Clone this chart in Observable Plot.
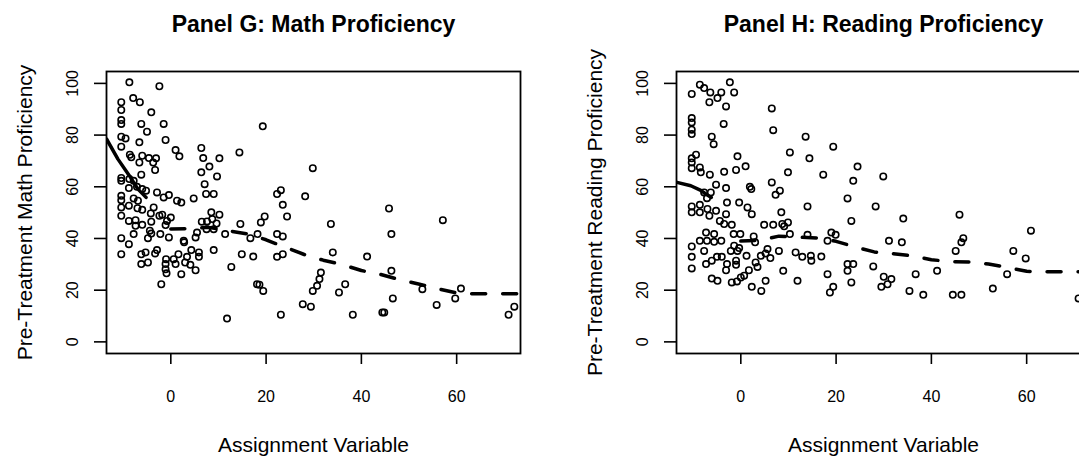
<!DOCTYPE html>
<html>
<head>
<meta charset="utf-8">
<script src="https://cdn.jsdelivr.net/npm/d3@7"></script>
<script src="https://cdn.jsdelivr.net/npm/@observablehq/plot@0.6"></script>
<style>
html, body { margin: 0; padding: 0; background: #fff; width: 1079px; height: 456px; overflow: hidden; }
#wrap { position: relative; width: 1079px; height: 456px; overflow: hidden; }
.panel { position: absolute; top: 0; width: 570px; height: 456px; }
.panel svg { max-width: none !important; display: block; }
</style>
</head>
<body>
<div id="wrap">
  <div class="panel" id="panelG" style="left:0px"></div>
  <div class="panel" id="panelH" style="left:570px"></div>
</div>
<script>
// ---- Tick labels / text ----
const xTicks = [0, 20, 40, 60];
const yTicks = [0, 20, 40, 60, 80, 100];
const xLabel = "Assignment Variable";
const titleG = "Panel G: Math Proficiency";
const titleH = "Panel H: Reading Proficiency";
const yLabelG = "Pre-Treatment Math Proficiency";
const yLabelH = "Pre-Treatment Reading Proficiency";

// ---- Panel G scatter (assignment variable, math proficiency) ----
const gX = [-8.7,-2.4,-7.9,-6.5,-10.4,-10.4,-4.1,-10.4,-10.4,-6.2,-1.5,-5.0,-10.4,-9.5,-1.1,-6.6,-10.4,1.0,6.4,14.4,
  1.8,-8.6,-8.3,-6.0,-4.6,-3.1,6.8,10.2,-6.6,-3.7,8.1,-3.3,6.4,-6.2,9.7,-10.4,-10.4,-8.7,-7.8,7.1,
  -8.8,-7.1,-6.0,-5.2,-2.9,-0.4,-1.5,-10.4,-10.4,-7.8,-6.9,1.3,2.2,4.8,7.4,9.0,-8.8,-7.0,-6.0,-3.6,
  -10.4,-10.4,-1.8,0.0,-4.2,-2.4,-0.8,8.5,10.2,8.7,7.6,9.6,6.5,-8.8,-7.4,-4.1,-7.4,-6.0,-1.1,-4.4,
  7.5,9.0,-7.8,-4.1,-2.2,5.5,11.4,-10.4,-4.8,-0.4,5.2,14.6,16.7,18.2,-8.8,2.7,2.8,4.3,5.9,5.9,
  9.0,-2.9,-3.3,-6.2,-5.3,-10.4,-1.0,0.6,1.6,3.4,-1.1,1.0,3.0,4.1,-6.2,-4.8,-1.1,5.2,-0.9,2.2,
  12.7,14.9,17.3,-2.0,18.1,11.8,
  19.3,29.8,22.3,23.1,28.2,23.5,24.4,18.9,19.7,22.3,23.5,22.3,23.5,33.6,34.0,41.2,45.8,46.3,46.3,46.6,
  57.1,18.6,19.4,31.5,31.2,30.7,29.8,27.7,29.4,23.1,35.3,36.6,38.2,44.4,44.8,52.8,55.8,59.7,60.9,70.9,72.1];
const gY = [100.4,98.9,94.3,92.7,92.7,89.7,88.8,85.8,84.3,84.3,84.3,81.3,79.4,78.7,78.1,77.2,75.5,74.2,75.0,73.3,
  71.8,72.4,71.4,72.0,71.1,71.0,71.1,71.0,69.4,69.4,67.8,66.5,65.6,64.7,64.0,63.4,62.3,63.0,62.3,61.0,
  59.5,60.0,59.1,58.5,57.8,56.8,55.9,56.5,54.8,55.5,54.6,54.6,53.9,55.5,57.2,57.2,52.7,51.7,51.1,52.0,
  52.0,48.8,49.2,48.1,49.7,48.8,46.8,50.1,49.2,47.5,46.6,45.8,46.5,46.8,47.1,46.5,44.9,45.3,45.2,43.0,
  43.6,43.6,41.7,41.9,41.7,42.3,41.7,40.1,40.1,40.4,40.4,45.6,40.1,41.7,37.8,39.1,38.5,35.5,34.6,32.9,
  35.5,35.5,34.2,33.9,34.6,33.9,32.0,32.0,33.9,32.9,30.1,30.1,30.7,29.8,30.1,30.7,28.1,27.7,26.5,26.2,
  29.0,33.9,33.0,22.3,22.3,9.0,
  83.4,67.2,57.2,58.7,56.3,53.0,48.5,46.2,48.5,41.7,40.8,32.9,33.9,45.6,34.6,33.0,51.6,41.7,27.5,16.8,
  47.1,22.1,19.7,26.8,24.3,21.7,19.7,14.6,13.6,10.5,19.1,22.3,10.5,11.4,11.4,20.4,14.3,16.8,20.6,10.5,13.6];

// ---- Panel G fitted lines ----
const gSolidX = [-13.5, -11.1, -8.7, -6.9, -5.2];
const gSolidY = [78.5, 70.7, 64.3, 59.1, 55.9];
const gDashX = [0, 4, 8, 12, 16, 20, 24, 28, 32, 36, 40, 44, 48, 52, 56, 60, 64, 68, 73.4];
const gDashY = [43.7, 43.8, 44.3, 43.0, 41.8, 39.5, 36.6, 33.8, 31.6, 29.9, 27.6, 26.1, 24.1, 22.4, 20.6, 18.9, 18.6, 18.6, 18.6];

// ---- Panel H scatter (assignment variable, reading proficiency) ----
const hX = [-8.6,-7.7,-10.3,-6.4,-4.1,-2.3,-1.4,-4.9,-6.6,-3.1,6.5,-10.3,-10.3,-3.6,-10.3,-10.3,6.8,-6.1,-5.7,13.6,
  10.3,14.4,-9.4,-10.3,-10.3,-10.3,-0.7,1.0,-8.6,-8.4,-6.5,-3.5,-1.0,9.9,-5.2,-3.1,1.9,2.2,6.5,8.2,
  7.3,-7.7,-6.3,-7.1,-10.3,-10.3,-8.6,-8.6,-7.0,-5.2,-2.9,-0.35,1.4,2.3,-3.1,-6.6,14.0,8.5,-4.4,-3.5,
  -1.9,4.9,6.8,8.7,9.1,9.9,-1.5,-0.1,2.7,10.3,14.0,-7.3,-5.6,-8.6,-7.1,-5.6,-4.1,-10.3,-7.7,-1.4,
  -0.35,-2.1,-0.7,1.2,3.0,3.1,3.5,4.2,5.2,5.6,6.2,8.0,11.5,12.9,14.7,14.8,-10.3,-5.0,-4.0,-2.9,
  -1.0,-1.0,-7.3,-6.1,-3.1,0.0,1.7,8.9,-10.3,-6.1,-4.9,-1.9,-0.8,0.7,2.3,4.3,5.2,11.9,
  19.4,17.3,23.6,24.5,29.9,22.4,28.3,23.2,34.1,45.9,60.9,19.0,19.9,18.2,31.1,33.8,46.7,46.3,45.1,57.2,
  59.8,16.9,22.4,23.6,22.4,27.8,18.2,30.0,31.6,30.8,29.5,23.2,19.4,18.7,36.7,41.2,35.4,38.3,44.5,46.3,
  52.9,55.9,70.9];
const hY = [99.5,98.2,95.9,96.5,96.5,100.4,96.5,94.3,92.7,91.1,90.3,86.6,84.9,84.3,82.1,80.4,81.9,79.4,76.5,79.4,
  73.3,71.0,72.4,71.0,69.4,67.2,71.8,67.9,67.5,65.6,64.7,65.8,66.5,65.6,60.8,59.5,60.0,59.1,61.7,58.5,
  56.9,57.8,57.8,55.6,52.4,50.1,53.0,50.1,51.4,50.7,53.9,53.9,52.0,49.4,49.4,48.8,52.4,50.1,46.8,45.6,
  45.3,45.3,45.3,45.6,44.7,46.2,41.7,41.7,40.8,41.7,41.4,42.3,41.7,39.1,39.1,38.7,39.1,36.9,35.2,37.2,
  36.3,35.2,35.2,33.3,38.5,30.7,29.0,33.3,34.2,35.9,32.4,35.2,34.6,32.9,33.3,31.4,32.9,32.9,32.9,30.1,
  31.4,29.8,30.1,31.4,27.7,24.9,27.7,27.5,28.4,24.5,23.6,23.0,23.4,25.6,21.3,19.7,23.6,23.6,
  75.5,64.7,62.3,67.8,64.0,55.5,52.4,46.8,47.7,49.2,43.0,42.3,41.4,39.1,39.1,38.5,40.1,38.5,35.2,35.2,
  32.3,33.0,30.1,30.1,27.5,29.2,26.2,25.2,24.3,22.3,21.3,23.0,21.3,19.1,26.2,27.5,19.7,18.2,18.2,18.2,
  20.6,26.2,16.8];

// ---- Panel H fitted lines ----
const hSolidX = [-13.4, -10.5, -8.4, -7.2, -6.2];
const hSolidY = [61.7, 60.4, 58.6, 57.0, 55.9];
const hDashX = [0, 4, 8, 12, 16, 20, 24, 28, 32, 36, 40, 44, 48, 52, 56, 60, 64, 68, 73.4];
const hDashY = [39.0, 39.3, 40.9, 40.5, 40.2, 38.9, 36.7, 34.8, 34.1, 33.3, 31.8, 31.0, 30.9, 30.1, 28.8, 27.3, 27.1, 27.1, 27.1];

function zip(xs, ys) { return xs.map((x, i) => ({x, y: ys[i]})); }

function makePanel(title, yLabel, px, py, sx, sy, dx, dy) {
  return Plot.plot({
    width: 570,
    height: 456,
    marginLeft: 106,
    marginRight: 50,
    marginTop: 71,
    marginBottom: 103,
    style: {fontFamily: "'Liberation Sans', Arial, Helvetica, sans-serif", background: "white", overflow: "visible", color: "black"},
    x: {domain: [-13.5, 73.4]},
    y: {domain: [-4.5, 104.6]},
    marks: [
      Plot.dot(zip(px, py), {x: "x", y: "y", r: 3.2, stroke: "black", strokeWidth: 1.6, fill: "none"}),
      Plot.line(zip(sx, sy), {x: "x", y: "y", stroke: "black", strokeWidth: 3.5, strokeLinecap: "round", clip: true}),
      Plot.line(zip(dx, dy), {x: "x", y: "y", stroke: "black", strokeWidth: 3.5, strokeLinecap: "round", strokeDasharray: "14,17", clip: true}),
      Plot.frame({stroke: "black", strokeWidth: 1.8}),
      Plot.axisX({ticks: xTicks, tickSize: 11, tickPadding: 26, fontSize: 16, label: null, strokeWidth: 1.6}),
      Plot.axisY({ticks: yTicks, tickSize: 12, tickPadding: 17, tickRotate: -90, fontSize: 16, label: null, strokeWidth: 1.6}),
      Plot.text([title], {text: d => d, frameAnchor: "top", dy: -39.3, textAnchor: "middle", lineAnchor: "bottom", fontSize: 23, fontWeight: "bold", fill: "black"}),
      Plot.text([xLabel], {text: d => d, frameAnchor: "bottom", dy: 98.7, textAnchor: "middle", lineAnchor: "bottom", fontSize: 21, fill: "black"}),
      Plot.text([yLabel], {text: d => d, frameAnchor: "left", dx: -75, rotate: -90, textAnchor: "middle", lineAnchor: "bottom", fontSize: 21, fill: "black"})
    ]
  });
}

document.getElementById("panelG").appendChild(makePanel(titleG, yLabelG, gX, gY, gSolidX, gSolidY, gDashX, gDashY));
document.getElementById("panelH").appendChild(makePanel(titleH, yLabelH, hX, hY, hSolidX, hSolidY, hDashX, hDashY));
</script>
</body>
</html>
